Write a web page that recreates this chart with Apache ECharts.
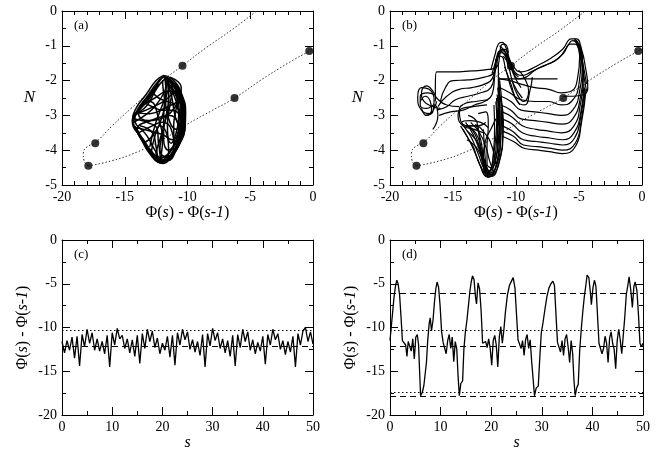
<!DOCTYPE html>
<html>
<head>
<meta charset="utf-8">
<script src="https://cdn.jsdelivr.net/npm/echarts@6/dist/echarts.min.js"></script>
<style>
  html, body { margin: 0; padding: 0; background: #fff; }
  #chart { width: 658px; height: 453px; }
</style>
</head>
<body>
<div id="chart"></div>
<script>
// ---- data ----

// dotted reference curve + fixed points, panels (a) and (b)
var dotUpper = [[-17.9,-4.45],[-18.25,-4.3],[-18.3,-4.1],[-18.0,-3.9],[-17.4,-3.8],[-16.0,-3.3],[-14.5,-2.8],[-13.0,-2.32],[-11.7,-1.92],[-10.4,-1.57],[-8.5,-1.05],[-6.5,-0.55],[-4.5,0.0]];
var dotLower = [[-17.9,-4.45],[-16.0,-4.3],[-14.0,-4.05],[-12.0,-3.7],[-10.0,-3.25],[-8.0,-2.85],[-6.25,-2.5],[-4.0,-1.95],[-2.0,-1.5],[-0.3,-1.15],[0,-1.08]];
var fixedPoints = [[-17.9,-4.45],[-17.35,-3.8],[-10.4,-1.57],[-6.25,-2.5],[-0.3,-1.15]];

// panel (a) orbit pieces
var orbitA = [
  [[-11.9,-1.85],[-11.1,-2.0],[-10.45,-2.4],[-10.15,-2.9],[-10.2,-3.4],[-10.6,-3.8],[-11.3,-4.2],[-12.0,-4.38],[-12.8,-4.15],[-13.7,-3.65],[-14.4,-3.15],[-14.1,-2.8],[-13.3,-2.4],[-12.5,-2.0],[-11.9,-1.85]],
  [[-11.8,-1.95],[-11.0,-2.15],[-10.5,-2.6],[-10.35,-3.1],[-10.6,-3.6],[-11.2,-4.05],[-12.0,-4.3],[-12.6,-4.0],[-13.2,-3.6],[-14.2,-3.1],[-13.2,-2.7],[-12.4,-2.2],[-11.8,-1.95]],
  [[-11.7,-1.9],[-11.3,-2.4],[-11.0,-3.0],[-10.6,-3.5],[-11.0,-4.0],[-11.9,-4.35],[-12.3,-3.8],[-12.4,-3.4],[-13.2,-3.2],[-14.3,-3.05],[-13.0,-2.8],[-11.9,-2.6],[-10.8,-2.3],[-10.4,-2.7]],
  [[-12.0,-1.9],[-12.8,-2.3],[-14.0,-2.9],[-13.0,-2.95],[-11.6,-2.75],[-10.6,-2.6],[-10.3,-3.2],[-10.7,-3.7],[-11.6,-4.2],[-12.4,-4.2],[-13.2,-3.9],[-14.0,-3.4],[-12.6,-3.1],[-11.3,-2.9],[-10.5,-2.2],[-11.4,-1.9]],
  [[-13.9,-3.5],[-12.8,-3.3],[-12.0,-3.2],[-11.3,-3.4],[-11.1,-3.9],[-11.7,-4.3],[-12.5,-4.1],[-12.2,-3.7],[-11.8,-3.2],[-11.5,-2.6],[-11.6,-2.0]],
  [[-13.5,-3.8],[-12.7,-3.55],[-12.0,-3.0],[-11.7,-2.4],[-11.8,-1.95],[-11.2,-2.1],[-10.7,-2.5],[-10.5,-3.0],[-10.8,-3.6],[-11.5,-4.1],[-12.3,-4.32],[-13.0,-4.05],[-13.6,-3.7]],
  [[-14.3,-3.2],[-13.4,-3.0],[-12.5,-2.7],[-11.8,-2.3],[-11.5,-2.0],[-11.0,-2.2],[-10.3,-2.7],[-10.2,-3.2],[-10.5,-3.7],[-11.4,-4.2],[-12.2,-4.35],[-12.5,-3.9],[-12.8,-3.5],[-13.8,-3.3]],
  [[-12.2,-1.95],[-13.0,-2.45],[-13.8,-2.75],[-12.6,-2.5],[-11.5,-2.3],[-10.8,-2.4],[-10.5,-2.9],[-10.9,-3.4],[-11.4,-3.2],[-11.8,-2.6],[-12.0,-2.0]],
  [[-12.9,-4.1],[-12.6,-3.6],[-12.2,-3.3],[-11.6,-3.6],[-11.5,-4.0],[-11.9,-4.35],[-12.6,-4.2],[-13.3,-3.85],[-14.1,-3.35],[-13.0,-3.45],[-12.0,-3.55],[-11.2,-3.7],[-10.7,-3.4],[-10.5,-2.9]],
  [[-11.95,-1.9],[-11.4,-2.05],[-10.8,-2.35],[-10.4,-2.8],[-10.35,-3.35],[-10.8,-3.9],[-11.6,-4.3],[-12.1,-4.2],[-12.0,-3.8],[-12.3,-3.1],[-13.0,-2.6],[-13.9,-2.85],[-14.35,-3.1],[-13.9,-3.55],[-13.0,-4.0],[-12.1,-4.35]],
  [[-11.6,-2.0],[-11.0,-2.5],[-10.7,-3.0],[-10.9,-3.5],[-11.3,-3.8],[-11.6,-3.3],[-11.4,-2.7],[-11.2,-2.2],[-11.6,-1.95]],
  [[-10.9,-2.1],[-10.4,-2.5],[-10.25,-3.0],[-10.4,-3.5],[-10.9,-3.85],[-11.1,-3.3],[-10.9,-2.8],[-10.8,-2.3]],
  [[-11.85,-1.88],[-11.2,-2.02],[-10.6,-2.35],[-10.25,-2.85],[-10.25,-3.35],[-10.55,-3.75],[-11.2,-4.15],[-11.95,-4.33],[-12.7,-4.1],[-13.5,-3.7],[-14.3,-3.2],[-14.0,-2.85],[-13.2,-2.45],[-12.4,-2.05],[-11.85,-1.88]],
  [[-11.7,-2.0],[-11.1,-2.3],[-10.7,-2.7],[-10.6,-3.2],[-10.9,-3.7],[-11.5,-4.0],[-11.9,-3.7],[-11.9,-3.1],[-11.8,-2.5],[-11.7,-2.0]],
  [[-11.5,-2.1],[-10.9,-2.4],[-10.5,-2.9],[-10.5,-3.4],[-10.9,-3.9],[-11.6,-4.2],[-12.2,-4.0],[-12.0,-3.5],[-11.7,-3.0],[-11.5,-2.5],[-11.5,-2.1]],
  [[-12.3,-2.1],[-13.1,-2.55],[-13.9,-2.95],[-13.1,-3.15],[-12.2,-3.1],[-11.4,-3.0],[-10.8,-3.2],[-10.6,-3.6]],
  [[-14.2,-3.3],[-13.6,-3.75],[-12.9,-4.15],[-12.2,-4.35],[-11.5,-4.2],[-10.8,-3.85],[-10.4,-3.4],[-10.3,-2.8],[-10.6,-2.35],[-11.2,-2.05],[-11.8,-1.9]],
  [[-13.0,-3.9],[-12.6,-3.3],[-12.0,-2.7],[-11.4,-2.2],[-11.0,-2.1],[-10.6,-2.5],[-10.4,-3.0],[-10.6,-3.5],[-11.2,-3.95],[-11.9,-4.2],[-12.4,-4.25]],
  [[-12.9,-2.3],[-12.3,-2.5],[-11.6,-2.6],[-11.0,-2.7],[-10.5,-3.0]],
  [[-13.6,-2.6],[-12.8,-2.75],[-12.0,-2.85],[-11.2,-2.85],[-10.4,-3.1]]
];

// panel (b) orbit pieces
var orbitB = [
  // left spiral
  [[-16.3,-2.6],[-16.9,-2.95],[-17.5,-2.85],[-17.8,-2.5],[-17.5,-2.2],[-16.9,-2.25],[-16.5,-2.55],[-16.6,-2.9],[-17.2,-3.0]],
  [[-16.5,-2.4],[-17.0,-2.35],[-17.6,-2.45],[-17.6,-2.7],[-17.1,-2.8],[-16.5,-2.7],[-16.2,-3.0],[-16.6,-3.4]],
  [[-16.0,-2.8],[-16.6,-2.75],[-17.3,-2.6],[-17.5,-2.35],[-17.1,-2.15],[-16.6,-2.3],[-16.3,-2.5],[-15.5,-2.7],[-14.5,-2.75]],
  [[-17.6,-2.6],[-17.2,-2.45],[-16.8,-2.6],[-16.7,-2.85],[-17.1,-3.0],[-17.5,-2.8]],
  // sheets to the central bump
  [[-16.4,-2.6],[-16.4,-2.1],[-16.3,-1.75],[-15.0,-1.75],[-13.5,-1.72],[-12.2,-1.68],[-11.5,-1.6],[-11.3,-1.3],[-11.2,-1.0],[-10.9,-0.95],[-10.6,-1.2]],
  [[-16.0,-2.6],[-15.6,-2.2],[-15.0,-2.0],[-13.8,-1.98],[-12.5,-1.9],[-11.7,-1.75],[-11.4,-1.3],[-11.1,-1.1],[-10.7,-1.3],[-10.3,-1.7],[-9.8,-1.9]],
  [[-16.2,-2.75],[-15.5,-2.45],[-14.5,-2.25],[-13.5,-2.2],[-12.5,-2.1],[-11.9,-1.95],[-11.6,-1.5],[-11.3,-1.15],[-10.9,-1.1],[-10.5,-1.5],[-10.1,-1.9],[-9.6,-2.2]],
  [[-16.3,-2.85],[-15.5,-2.75],[-14.8,-2.55],[-13.8,-2.45],[-12.8,-2.35],[-12.0,-2.2],[-11.7,-1.8],[-11.5,-1.3],[-11.1,-1.2],[-10.6,-1.6],[-10.2,-2.1],[-9.5,-2.5]],
  [[-16.1,-3.0],[-15.2,-2.9],[-14.2,-2.85],[-13.3,-2.7],[-12.5,-2.6],[-11.9,-2.4],[-11.7,-1.9],[-11.6,-1.4],[-11.2,-1.3],[-10.8,-1.7],[-10.3,-2.3],[-9.7,-2.7]],
  // bubble
  [[-12.2,-2.55],[-13.2,-2.6],[-14.0,-2.65],[-14.5,-2.85],[-14.4,-3.15],[-13.8,-3.3],[-13.0,-3.3],[-12.4,-3.2]],
  [[-12.3,-2.7],[-13.4,-2.75],[-14.3,-2.8],[-14.6,-3.0],[-14.2,-3.3],[-13.3,-3.4],[-12.6,-3.5]],
  // lower left funnel
  [[-11.3,-2.3],[-11.15,-3.0],[-11.2,-3.7],[-11.5,-4.3],[-12.0,-4.7],[-12.5,-4.55],[-13.0,-4.1],[-13.6,-3.6],[-14.3,-3.2],[-13.6,-3.15],[-12.8,-3.2],[-12.2,-3.35]],
  [[-11.5,-2.4],[-11.35,-3.1],[-11.4,-3.8],[-11.7,-4.35],[-12.1,-4.6],[-12.5,-4.35],[-12.9,-3.9],[-13.4,-3.45],[-14.0,-3.3]],
  [[-11.6,-2.6],[-11.5,-3.3],[-11.6,-4.0],[-11.9,-4.45],[-12.3,-4.65],[-12.7,-4.3],[-12.9,-3.7],[-13.1,-3.2],[-13.8,-3.0]],
  [[-11.2,-2.5],[-11.0,-3.2],[-11.1,-3.9],[-11.4,-4.4],[-11.9,-4.75],[-12.4,-4.7],[-12.6,-4.2],[-12.4,-3.7],[-12.0,-3.4],[-11.6,-3.1]],
  [[-13.9,-3.45],[-13.2,-3.7],[-12.7,-4.1],[-12.3,-4.5],[-12.1,-4.7]],
  [[-14.1,-3.3],[-13.3,-3.3],[-12.5,-3.5],[-11.9,-3.9],[-11.6,-4.4]],
  [[-13.6,-3.2],[-12.9,-3.5],[-12.4,-3.9],[-12.1,-4.3],[-11.8,-4.6]],
  [[-11.75,-2.7],[-11.7,-3.4],[-11.8,-4.1],[-12.0,-4.5],[-12.3,-4.4],[-12.3,-3.9],[-12.2,-3.3],[-12.4,-2.9],[-13.0,-2.95]],
  [[-11.35,-1.9],[-11.3,-2.7],[-11.3,-3.5],[-11.4,-4.1],[-11.7,-4.6],[-12.2,-4.78],[-12.9,-4.4],[-13.4,-3.9],[-13.9,-3.6],[-14.4,-3.3]],
  [[-12.6,-3.4],[-12.5,-3.9],[-12.4,-4.4],[-12.2,-4.7],[-11.9,-4.4],[-11.6,-3.6],[-11.5,-2.9]],
  [[-11.3,-2.0],[-11.1,-2.8],[-11.05,-3.6],[-11.3,-4.3],[-11.8,-4.7],[-12.3,-4.75],[-12.8,-4.45]],
  [[-11.45,-2.2],[-11.25,-3.0],[-11.25,-3.8],[-11.55,-4.45],[-12.0,-4.65],[-12.4,-4.5],[-12.7,-4.0],[-13.2,-3.5],[-13.8,-3.3]],
  [[-11.55,-2.5],[-11.45,-3.3],[-11.5,-4.0],[-11.8,-4.5],[-12.15,-4.7],[-12.6,-4.6],[-13.1,-4.2],[-13.6,-3.8],[-14.2,-3.4]],
  [[-14.0,-3.2],[-13.4,-3.55],[-12.9,-4.0],[-12.5,-4.45],[-12.2,-4.75]],
  [[-13.2,-3.25],[-12.8,-3.7],[-12.6,-4.2],[-12.4,-4.6]],
  [[-13.9,-3.7],[-13.2,-3.9],[-12.6,-4.3],[-12.2,-4.6]],
  // straight pieces
  [[-11.4,-1.5],[-11.4,-2.4],[-11.4,-3.3]],
  [[-11.4,-1.95],[-9.0,-1.95],[-6.7,-1.95]],
  // nested curves on the right
  [[-11.3,-1.95],[-10.5,-2.0],[-9.6,-2.1],[-8.5,-2.2],[-7.4,-2.25],[-6.4,-2.35],[-5.6,-2.3],[-5.1,-1.9],[-4.95,-1.3],[-5.15,-0.95],[-5.4,-0.85]],
  [[-11.3,-2.2],[-10.5,-2.35],[-9.6,-2.55],[-8.5,-2.6],[-7.4,-2.6],[-6.4,-2.7],[-5.6,-2.6],[-5.0,-2.1],[-4.85,-1.4],[-5.05,-0.95],[-5.35,-0.8]],
  [[-11.2,-2.45],[-10.4,-2.6],[-9.6,-2.85],[-8.5,-2.9],[-7.4,-2.95],[-6.4,-3.0],[-5.5,-2.85],[-4.95,-2.3],[-4.75,-1.5],[-4.95,-1.0],[-5.3,-0.85]],
  [[-11.2,-2.7],[-10.4,-2.85],[-9.6,-3.1],[-8.5,-3.15],[-7.4,-3.2],[-6.4,-3.25],[-5.5,-3.1],[-4.9,-2.5],[-4.7,-1.7],[-4.85,-1.05],[-5.25,-0.9]],
  [[-11.1,-2.9],[-10.3,-3.05],[-9.5,-3.3],[-8.4,-3.4],[-7.4,-3.45],[-6.4,-3.5],[-5.4,-3.3],[-4.9,-2.7],[-4.65,-1.9],[-4.8,-1.2]],
  [[-11.1,-3.1],[-10.3,-3.25],[-9.5,-3.5],[-8.4,-3.6],[-7.3,-3.65],[-6.3,-3.7],[-5.4,-3.5],[-4.85,-2.9],[-4.6,-2.1]],
  [[-11.1,-3.3],[-10.3,-3.45],[-9.4,-3.7],[-8.4,-3.75],[-7.3,-3.8],[-6.3,-3.85],[-5.35,-3.65],[-4.85,-3.0],[-4.55,-2.2]],
  [[-11.1,-3.45],[-10.2,-3.6],[-9.4,-3.85],[-8.3,-3.9],[-7.2,-3.95],[-6.3,-4.0],[-5.3,-3.8],[-4.8,-3.1],[-4.5,-2.25]],
  [[-11.1,-3.6],[-10.2,-3.75],[-9.3,-3.95],[-8.2,-4.0],[-7.2,-4.05],[-6.3,-4.1],[-5.3,-3.9],[-4.8,-3.2],[-4.45,-2.3]],
  // upper connections to the right arch
  [[-11.3,-1.0],[-10.8,-1.2],[-10.2,-1.6],[-9.6,-1.75],[-9.0,-1.7],[-8.2,-1.55],[-7.2,-1.35],[-6.3,-1.1],[-5.6,-0.8],[-5.2,-0.8],[-4.8,-1.1],[-4.5,-1.6],[-4.3,-2.2],[-4.6,-2.4],[-5.5,-2.45],[-6.3,-2.45]],
  [[-11.2,-1.15],[-10.7,-1.35],[-10.1,-1.75],[-9.5,-1.85],[-8.8,-1.75],[-8.0,-1.6],[-7.0,-1.45],[-6.2,-1.2],[-5.7,-0.95],[-5.3,-0.95],[-4.9,-1.3],[-4.6,-1.9],[-4.4,-2.3]],
  [[-11.0,-1.3],[-10.4,-1.6],[-9.8,-1.95],[-9.2,-1.9],[-8.5,-1.7],[-7.6,-1.55],[-6.6,-1.35],[-5.9,-1.0],[-5.5,-0.85],[-5.0,-1.0],[-4.7,-1.5],[-4.4,-2.1]],
  [[-9.8,-1.7],[-9.3,-1.95],[-9.0,-2.3],[-9.4,-2.6],[-9.9,-2.4],[-10.3,-2.0]],
  [[-10.9,-1.6],[-10.4,-2.1],[-9.9,-2.6],[-9.3,-2.7],[-8.9,-2.3],[-8.7,-1.9]],
  // central bump arcs
  [[-12.0,-1.7],[-11.7,-1.3],[-11.4,-0.95],[-11.1,-0.9],[-10.8,-1.05],[-10.5,-1.4],[-10.2,-1.7]],
  [[-11.9,-1.8],[-11.6,-1.45],[-11.3,-1.15],[-11.0,-1.15],[-10.7,-1.35],[-10.4,-1.7]]
];

// panel (c): values every 0.5 in s
var cStep = 0.5;
var cValues = [-11.6,-12.9,-11.5,-12.6,-11.1,-13.5,-11.0,-14.4,-10.8,-12.2,
  -10.2,-11.8,-10.6,-12.6,-11.3,-12.7,-11.6,-13.0,-10.9,-14.5,
  -10.6,-12.0,-10.1,-11.3,-10.9,-12.4,-11.3,-12.9,-11.4,-13.3,
  -10.9,-14.1,-10.7,-12.4,-10.2,-11.6,-10.4,-12.3,-11.2,-13.0,
  -11.8,-12.6,-11.0,-13.4,-10.9,-14.3,-10.6,-12.0,-10.2,-11.4,
  -10.5,-12.5,-11.4,-12.8,-11.6,-13.2,-10.8,-14.5,-10.7,-12.1,
  -10.1,-11.5,-10.6,-12.4,-11.3,-12.9,-11.5,-13.3,-10.9,-14.4,
  -10.8,-12.3,-10.2,-11.6,-10.5,-12.6,-11.4,-13.0,-11.7,-12.7,
  -11.0,-14.2,-10.8,-12.0,-10.2,-11.4,-10.7,-12.5,-11.5,-13.1,
  -11.6,-12.8,-11.0,-14.5,-10.7,-12.0,-10.4,-10.0,-11.6,-10.5,
  -11.9];
var cDotted = [-10.3];
var cDashed = [-12.15];

// panel (d): [s, value]
var dPoints = [[0,-11.5],[0.4,-9.0],[0.8,-6.5],[1.1,-5.2],[1.35,-4.6],[1.6,-5.0],[1.9,-6.3],[2.2,-9.0],[2.45,-11.5],[2.8,-11.7],
  [3.1,-12.0],[3.35,-13.3],[3.6,-11.6],[3.9,-11.4],[4.2,-12.7],[4.5,-11.3],[4.8,-13.6],[5.1,-11.1],[5.4,-10.8],[5.65,-12.0],
  [5.85,-15.0],[6.05,-17.8],[6.4,-17.4],[6.7,-16.6],[7.0,-16.5],[7.2,-14.0],[7.45,-11.5],[7.75,-9.5],[7.95,-8.9],[8.2,-10.4],
  [8.5,-9.2],[8.8,-7.0],[9.05,-5.6],[9.3,-4.8],[9.6,-5.4],[9.9,-7.5],[10.2,-10.5],[10.5,-11.7],[10.8,-11.9],[11.1,-13.0],
  [11.4,-11.5],[11.7,-10.8],[12.0,-12.4],[12.3,-11.1],[12.6,-13.9],[12.9,-11.6],[13.2,-12.5],[13.45,-15.5],[13.7,-17.8],[14.0,-16.4],
  [14.35,-16.1],[14.6,-12.5],[14.9,-10.5],[15.2,-9.2],[15.5,-7.5],[15.8,-5.8],[16.05,-4.8],[16.3,-4.1],[16.6,-4.5],[16.9,-6.5],
  [17.1,-7.3],[17.4,-4.9],[17.7,-5.6],[18.0,-8.0],[18.3,-11.8],[18.6,-12.0],[18.9,-11.6],[19.2,-12.3],[19.5,-11.3],[19.8,-12.4],
  [20.1,-14.3],[20.4,-11.5],[20.7,-10.9],[21.0,-12.0],[21.3,-14.5],[21.6,-11.1],[21.9,-9.9],[22.2,-11.8],[22.5,-10.3],[22.8,-8.3],
  [23.2,-6.3],[23.6,-5.2],[24.0,-4.7],[24.35,-4.3],[24.7,-5.5],[25.0,-8.5],[25.3,-11.4],[25.6,-11.3],[25.9,-12.4],[26.2,-11.5],
  [26.5,-13.2],[26.8,-11.4],[27.1,-10.8],[27.4,-12.4],[27.7,-11.4],[28.0,-13.9],[28.3,-16.0],[28.55,-17.8],[28.9,-16.9],[29.3,-16.7],
  [29.6,-13.5],[29.9,-10.6],[30.2,-9.6],[30.6,-8.0],[31.0,-6.5],[31.4,-5.5],[31.8,-5.0],[32.2,-4.7],[32.5,-5.2],[32.8,-8.5],
  [33.1,-11.7],[33.4,-11.6],[33.7,-12.8],[34.0,-11.5],[34.3,-13.2],[34.6,-11.3],[34.9,-10.8],[35.2,-12.2],[35.5,-14.0],[35.8,-11.5],
  [36.1,-13.0],[36.35,-16.0],[36.6,-17.8],[36.9,-16.9],[37.2,-16.5],[37.5,-12.5],[37.8,-10.2],[38.1,-8.2],[38.4,-6.5],[38.7,-5.2],
  [38.95,-4.0],[39.3,-4.3],[39.6,-6.0],[39.8,-7.4],[40.1,-5.5],[40.4,-4.6],[40.7,-5.3],[41.0,-8.5],[41.3,-11.8],[41.6,-11.6],
  [41.9,-13.0],[42.2,-12.4],[42.5,-11.0],[42.8,-11.8],[43.1,-14.0],[43.4,-11.2],[43.7,-10.5],[44.0,-11.8],[44.3,-12.5],[44.6,-14.7],
  [44.9,-11.5],[45.2,-10.2],[45.5,-11.4],[45.8,-13.0],[46.1,-10.9],[46.4,-8.8],[46.7,-6.2],[47.0,-5.2],[47.25,-4.2],[47.6,-5.8],
  [47.9,-7.7],[48.2,-5.3],[48.45,-4.8],[48.8,-5.8],[49.1,-8.5],[49.4,-11.8],[49.7,-12.2],[50.0,-11.8]];
var dDotted = [-10.3, -17.35];
var dDashed = [-6.1, -12.15, -17.8];

var panelLabels = ["(a)", "(b)", "(c)", "(d)"];

// ---- chart ----
var FONT = "Liberation Serif";
var chart = echarts.init(document.getElementById("chart"), null, { renderer: "canvas" });

var grids = [
  { left: 62, top: 11, width: 251, height: 174 },
  { left: 390, top: 11, width: 252, height: 174 },
  { left: 62, top: 240, width: 251, height: 175 },
  { left: 390, top: 240, width: 253, height: 175 }
];

var phiName = "Φ({i|s}) - Φ({i|s-1})";
var nameStyle = {
  fontFamily: FONT, fontSize: 16, color: "#000",
  rich: { i: { fontFamily: FONT, fontSize: 16, fontStyle: "italic", color: "#000" } }
};

function makeAxis(gi, pos, min, max, interval, minorSplit, extra) {
  var shown = pos === "bottom" || pos === "left";
  var ax = {
    type: "value", gridIndex: gi, position: pos,
    min: min, max: max, interval: interval,
    axisLine: { onZero: false, lineStyle: { color: "#000", width: 1 } },
    axisTick: { inside: true, length: 8, lineStyle: { color: "#000" } },
    minorTick: { show: true, splitNumber: minorSplit, length: 4, lineStyle: { color: "#000" } },
    splitLine: { show: false },
    axisLabel: { show: shown, fontFamily: FONT, fontSize: 14, color: "#000", margin: 5 }
  };
  return Object.assign(ax, extra || {});
}

var xAxes = [], yAxes = [];
[0, 1].forEach(function (gi) {
  xAxes.push(makeAxis(gi, "bottom", -20, 0, 5, 5, {
    name: phiName, nameLocation: "middle", nameGap: 19, nameTextStyle: nameStyle
  }));
  xAxes.push(makeAxis(gi, "top", -20, 0, 5, 5));
  yAxes.push(makeAxis(gi, "left", -5, 0, 1, 2, {
    name: "N", nameLocation: "middle", nameRotate: 0, nameGap: 27,
    nameTextStyle: { fontFamily: FONT, fontSize: 17, fontStyle: "italic", color: "#000" }
  }));
  yAxes.push(makeAxis(gi, "right", -5, 0, 1, 2));
});
[2, 3].forEach(function (gi) {
  xAxes.push(makeAxis(gi, "bottom", 0, 50, 10, 2, {
    name: "s", nameLocation: "middle", nameGap: 18,
    nameTextStyle: { fontFamily: FONT, fontSize: 16, fontStyle: "italic", color: "#000" }
  }));
  xAxes.push(makeAxis(gi, "top", 0, 50, 10, 2));
  yAxes.push(makeAxis(gi, "left", -20, 0, 5, 2, {
    name: phiName, nameLocation: "middle", nameRotate: 90, nameGap: 31, nameTextStyle: nameStyle
  }));
  yAxes.push(makeAxis(gi, "right", -20, 0, 5, 2));
});

function lineSeries(pts, gi, style) {
  return {
    type: "line", xAxisIndex: gi * 2, yAxisIndex: gi * 2, data: pts,
    symbol: "none", silent: true, animation: false, clip: true,
    smooth: style.smooth || false,
    lineStyle: { color: style.color || "#000", width: style.width || 1, type: style.type || "solid" },
    z: style.z || 3
  };
}

function refLines(gi, dotted, dashed) {
  var items = [];
  dotted.forEach(function (v) { items.push({ yAxis: v, lineStyle: { type: [1.5, 2.5], width: 1 } }); });
  dashed.forEach(function (v) { items.push({ yAxis: v, lineStyle: { type: [6, 4], width: 1.2 } }); });
  return {
    type: "line", xAxisIndex: gi * 2, yAxisIndex: gi * 2, data: [],
    silent: true, animation: false,
    markLine: { symbol: "none", silent: true, animation: false, label: { show: false },
      lineStyle: { color: "#000" }, data: items }
  };
}

var series = [];
[0, 1].forEach(function (gi) {
  series.push(lineSeries(dotUpper, gi, { smooth: 0.5, type: [1.5, 2], color: "#333", z: 2 }));
  series.push(lineSeries(dotLower, gi, { smooth: 0.5, type: [1.5, 2], color: "#333", z: 2 }));
});
orbitA.forEach(function (pts) { series.push(lineSeries(pts, 0, { smooth: 0.5, width: 1.5 })); });
orbitB.forEach(function (pts) { series.push(lineSeries(pts, 1, { smooth: 0.5, width: 1.2 })); });
[0, 1].forEach(function (gi) {
  series.push({
    type: "scatter", xAxisIndex: gi * 2, yAxisIndex: gi * 2, data: fixedPoints,
    symbolSize: 8, itemStyle: { color: "#000" }, silent: true, animation: false, z: 5
  });
});

series.push(lineSeries(cValues.map(function (v, i) { return [i * cStep, v]; }), 2, { width: 1.3 }));
series.push(refLines(2, cDotted, cDashed));
series.push(lineSeries(dPoints, 3, { width: 1.3 }));
series.push(refLines(3, dDotted, dDashed));

var labelPos = [[74, 19], [402, 19], [74, 248], [402, 248]];
var graphics = panelLabels.map(function (t, i) {
  return {
    type: "text", left: labelPos[i][0], top: labelPos[i][1], silent: true,
    style: { text: t, fontFamily: FONT, fontSize: 13, fill: "#000" }
  };
});

chart.setOption({
  backgroundColor: "#fff",
  animation: false,
  grid: grids,
  xAxis: xAxes,
  yAxis: yAxes,
  series: series,
  graphic: graphics
});
</script>
</body>
</html>
